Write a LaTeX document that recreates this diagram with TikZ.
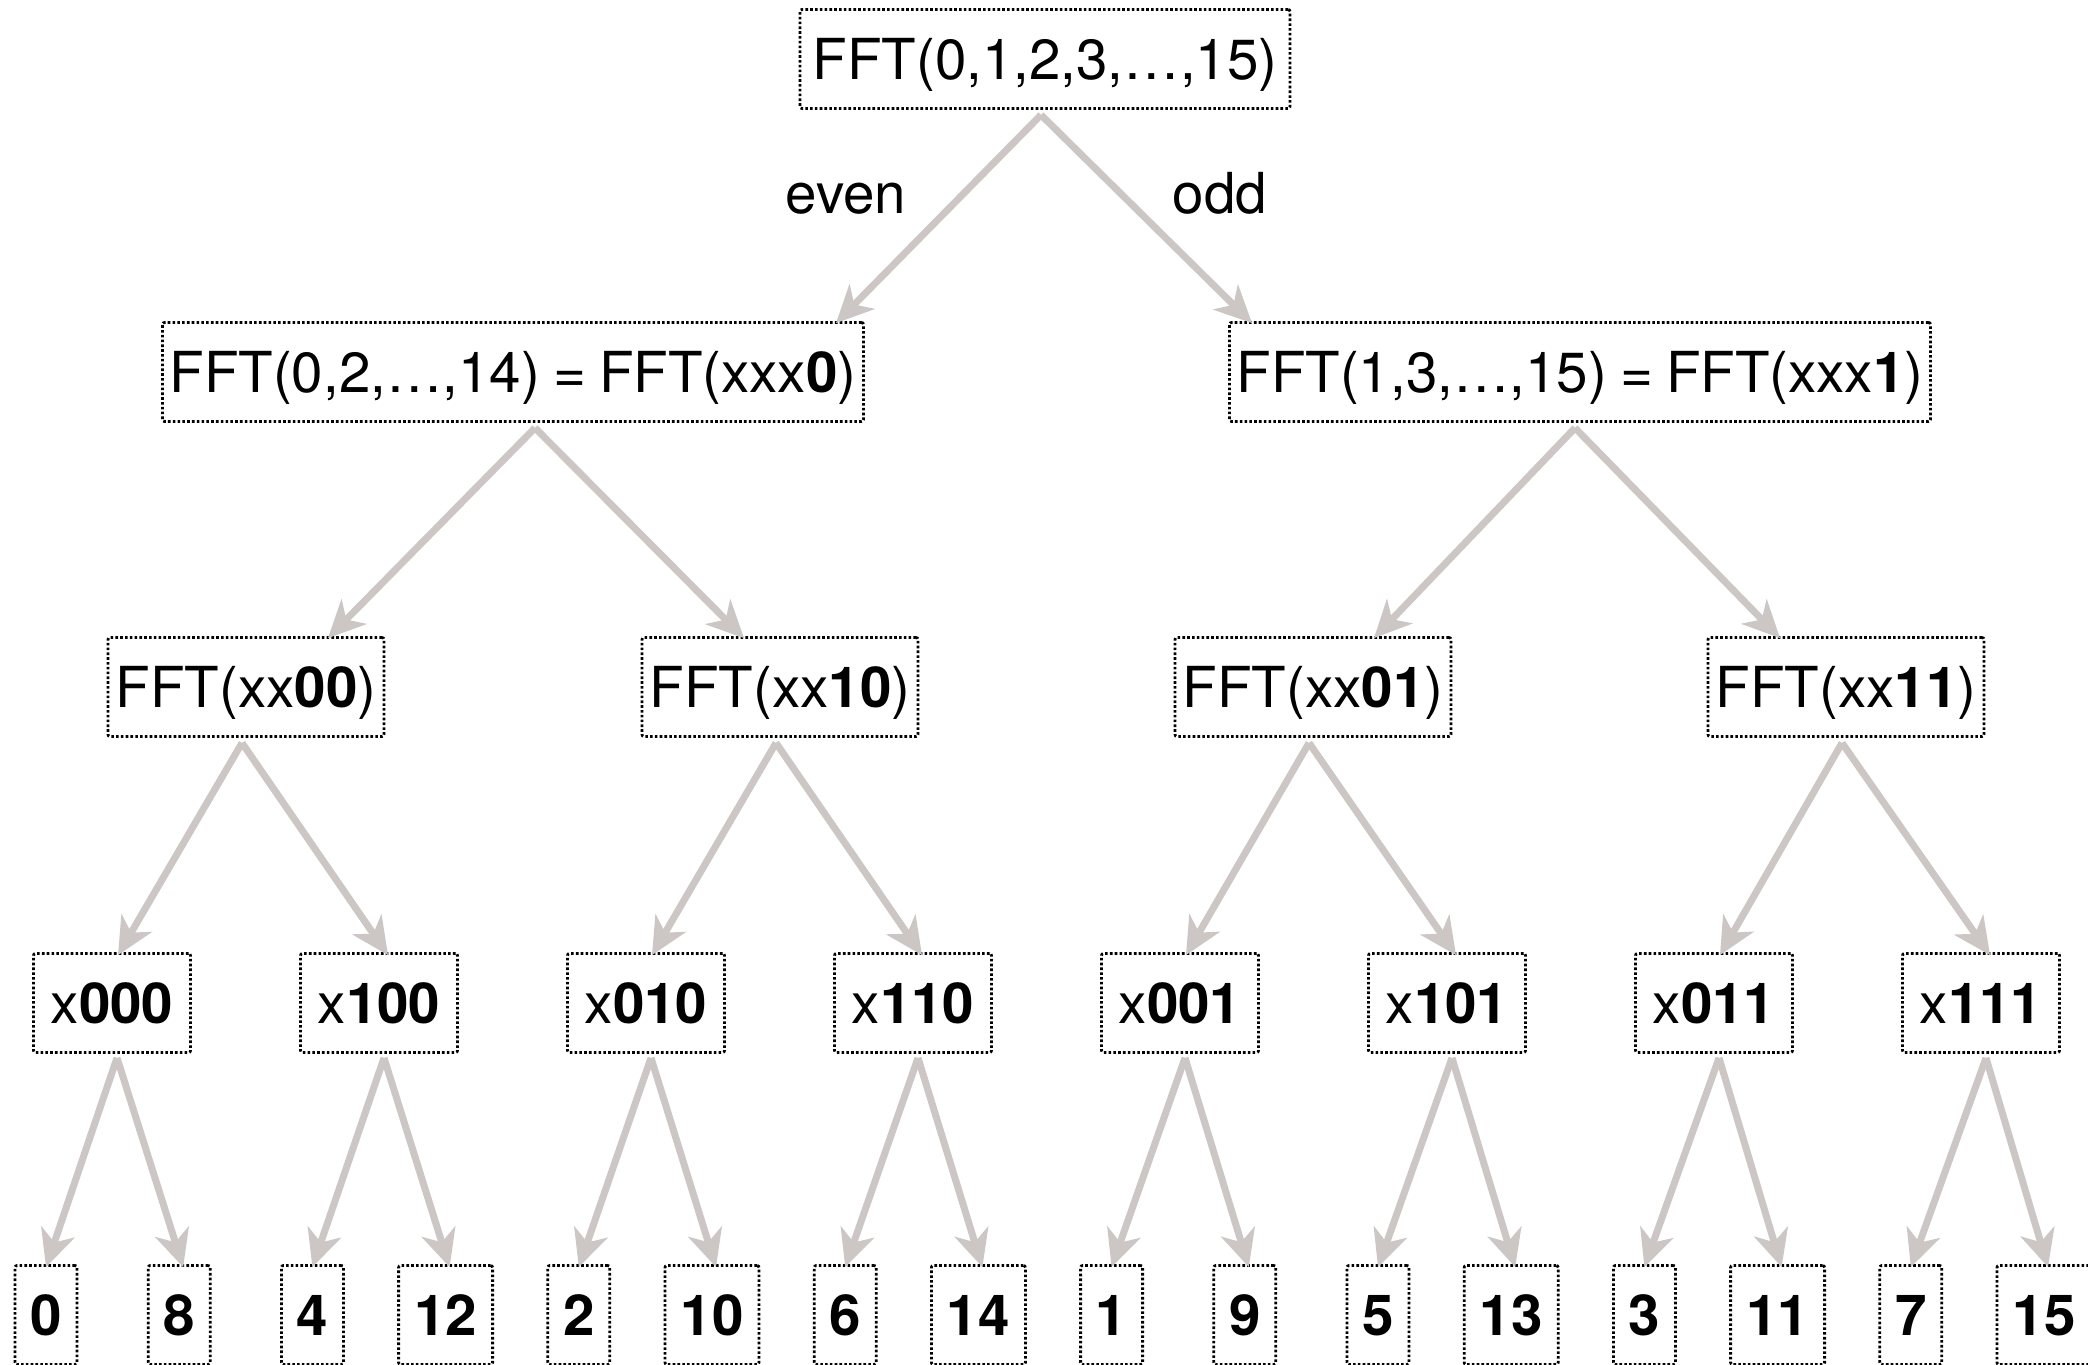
\documentclass[tikz,border=0pt]{standalone}
\usepackage{fontspec}
\setmainfont{TeX Gyre Heros}
\usetikzlibrary{arrows.meta}
\definecolor{arrowgray}{RGB}{204,198,197}
\begin{document}
\begin{tikzpicture}[x=1pt,y=-1pt,
  box/.style={draw=black, line width=2.8pt, dash pattern=on 2.6pt off 2.2pt,
    rounded corners=2pt, inner xsep=6pt, inner ysep=29pt,
    text height=41pt, text depth=0pt, font=\fontsize{56.5pt}{60pt}\selectfont},
  conn/.style={draw=arrowgray, line width=7pt, line cap=butt,
    -{Stealth[length=37pt,width=35pt,inset=11pt]}},
  lab/.style={font=\fontsize{56.5pt}{60pt}\selectfont, anchor=base, inner sep=0pt}]
\useasboundingbox (0,0) rectangle (2088,1365);

% level 0
\node[box, minimum width=490pt] (top) at (1045,59) {FFT(0,1,2,3,…,15)};
% level 1
\node[box, minimum width=701pt] (e) at (513,372) {FFT(0,2,…,14)\hspace{13pt}=\hspace{13pt}FFT(xxx\textbf{0})};
\node[box, minimum width=701pt] (o) at (1580,372) {FFT(1,3,…,15)\hspace{13pt}=\hspace{13pt}FFT(xxx\textbf{1})};
% labels
\node[lab] (even) at (846,213) {even};
\node[lab] (odd) at (1220,213) {odd};
% level 2
\node[box, minimum width=276pt] (a00) at (246,687) {FFT(xx\textbf{00})};
\node[box, minimum width=276pt] (a10) at (780,687) {FFT(xx\textbf{10})};
\node[box, minimum width=276pt] (a01) at (1313,687) {FFT(xx\textbf{01})};
\node[box, minimum width=276pt] (a11) at (1846,687) {FFT(xx\textbf{11})};
% level 3
\foreach \n [count=\i from 0] in {000,100,010,110,001,101,011,111}
  \node[box, minimum width=157pt] (b\n) at ({112+267*\i},1003) {x\textbf{\n}};
% leaves
\foreach \n/\w [count=\i from 0] in {0/62,8/62,4/62,12/94,2/62,10/94,6/62,14/94,1/62,9/62,5/62,13/94,3/62,11/94,7/62,15/94}
  \node[box, minimum width=\w pt] (c\n) at ({46+133.2*\i},1315) {\textbf{\n}};

% connectors level 0 -> 1
\draw[conn] ([shift={(-4,5)}]top.south) -- ([shift={(323,2)}]e.north);
\draw[conn] ([shift={(-4,5)}]top.south) -- ([shift={(-328,2)}]o.north);
% level 1 -> 2
\draw[conn] ([shift={(22,5)}]e.south) -- ([shift={(82,2)}]a00.north);
\draw[conn] ([shift={(22,5)}]e.south) -- ([shift={(-36,2)}]a10.north);
\draw[conn] ([shift={(-5,5)}]o.south) -- ([shift={(61,2)}]a01.north);
\draw[conn] ([shift={(-5,5)}]o.south) -- ([shift={(-66,2)}]a11.north);
% level 2 -> 3
\foreach \p/\l/\r in {a00/b000/b100, a10/b010/b110, a01/b001/b101, a11/b011/b111}{
  \draw[conn] ([shift={(-4,5)}]\p.south) -- ([shift={(6,3)}]\l.north);
  \draw[conn] ([shift={(-4,5)}]\p.south) -- ([shift={(9,3)}]\r.north);
}
% level 3 -> leaves
\foreach \p/\l/\r in {b000/c0/c8, b100/c4/c12, b010/c2/c10, b110/c6/c14,
                      b001/c1/c9, b101/c5/c13, b011/c3/c11, b111/c7/c15}{
  \draw[conn] ([shift={(5,4)}]\p.south) -- ([shift={(0,3)}]\l.north);
  \draw[conn] ([shift={(5,4)}]\p.south) -- ([shift={(4,3)}]\r.north);
}
\end{tikzpicture}
\end{document}
